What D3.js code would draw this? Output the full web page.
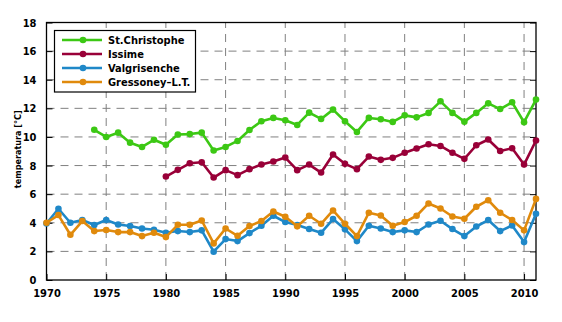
<!DOCTYPE html>
<meta charset="utf-8">
<style>
body {
  margin: 0;
  background: #fff;
  font-family: "DejaVu Sans Condensed", "DejaVu Sans";
}
text {
  font-weight: bold;
  fill: #000;
}
.grid line {
  stroke: #808080;
  stroke-width: 1;
  stroke-dasharray: 8,6;
}
.series path {
  fill: none;
  stroke-width: 2.6;
  stroke-linejoin: round;
}
</style>
<body>
<script src="https://cdn.jsdelivr.net/npm/d3@7"></script>
<script>

var width = 562,
    height = 322,
    margin = {top: 22.5, right: 26, bottom: 42, left: 46.5};

var names = ["St.Christophe", "Issime", "Valgrisenche", "Gressoney–L.T."];
var colors = ["#3cc814", "#990038", "#1f88c8", "#e08a0c"];

var stChristopheYears = d3.range(1974, 2012);
var stChristophe = [10.5, 10.0, 10.3, 9.6, 9.3, 9.8, 9.45, 10.17, 10.2, 10.3,
  9.05, 9.3, 9.72, 10.49, 11.1, 11.33, 11.17, 10.84, 11.7, 11.26,
  11.91, 11.1, 10.35, 11.33, 11.24, 11.05, 11.51, 11.37, 11.68, 12.49,
  11.68, 11.07, 11.68, 12.35, 11.95, 12.42, 11.03, 12.61];

var issimeYears = d3.range(1980, 2012);
var issime = [7.23, 7.7, 8.16, 8.23, 7.16, 7.68, 7.33, 7.75, 8.07, 8.28,
  8.56, 7.68, 8.07, 7.51, 8.77, 8.12, 7.75, 8.63, 8.4, 8.54,
  8.89, 9.19, 9.49, 9.37, 8.89, 8.47, 9.42, 9.82, 9.02, 9.21,
  8.07, 9.75];

var valgrisencheYears = d3.range(1970, 2012);
var valgrisenche = [3.95, 4.98, 4.0, 4.19, 3.84, 4.19, 3.88, 3.77, 3.6, 3.51,
  3.3, 3.42, 3.35, 3.47, 1.98, 2.86, 2.72, 3.28, 3.79, 4.49,
  4.05, 3.84, 3.56, 3.3, 4.26, 3.54, 2.72, 3.79, 3.6, 3.35,
  3.47, 3.35, 3.88, 4.14, 3.56, 3.07, 3.74, 4.19, 3.42, 3.81,
  2.65, 4.63];

var gressoneyYears = d3.range(1970, 2012);
var gressoney = [4.0, 4.54, 3.16, 4.12, 3.42, 3.49, 3.35, 3.35, 3.07, 3.3,
  3.0, 3.86, 3.86, 4.16, 2.56, 3.6, 3.09, 3.77, 4.12, 4.79,
  4.42, 3.75, 4.49, 3.93, 4.86, 3.93, 3.07, 4.7, 4.51, 3.79,
  4.05, 4.49, 5.35, 5.0, 4.44, 4.28, 5.12, 5.58, 4.7, 4.19,
  3.47, 5.67];

var xTicks = [1970, 1975, 1980, 1985, 1990, 1995, 2000, 2005, 2010];
var yTicks = [0, 2, 4, 6, 8, 10, 12, 14, 16, 18];

var series = [
  {years: stChristopheYears, values: stChristophe},
  {years: issimeYears, values: issime},
  {years: valgrisencheYears, values: valgrisenche},
  {years: gressoneyYears, values: gressoney}
].map(function(s, i) {
  return {
    name: names[i],
    color: colors[i],
    points: s.values.map(function(v, j) { return [s.years[j], v]; })
  };
});

var x = d3.scaleLinear()
    .domain([1970, 2011])
    .range([margin.left, width - margin.right]);

var y = d3.scaleLinear()
    .domain([0, 18])
    .range([height - margin.bottom, margin.top]);

var svg = d3.select("body").append("svg")
    .attr("width", width)
    .attr("height", height);

// dashed grid
var grid = svg.append("g").attr("class", "grid");

grid.selectAll(".gx")
    .data(xTicks.slice(1))
  .enter().append("line")
    .attr("x1", function(d) { return x(d); })
    .attr("x2", function(d) { return x(d); })
    .attr("y1", y(0))
    .attr("y2", y(18));

grid.selectAll(".gy")
    .data(yTicks.slice(1, -1))
  .enter().append("line")
    .attr("x1", x(1970))
    .attr("x2", x(2011))
    .attr("y1", function(d) { return y(d); })
    .attr("y2", function(d) { return y(d); });

// axes with inward ticks
function styleAxis(g) {
  g.select(".domain").remove();
  g.selectAll(".tick line").attr("stroke", "#000");
  g.selectAll(".tick text")
      .style("font-family", "DejaVu Sans Condensed, DejaVu Sans")
      .style("font-weight", "bold")
      .style("font-size", "11px");
}

svg.append("g")
    .attr("transform", "translate(0," + y(0) + ")")
    .call(d3.axisBottom(x).tickValues(xTicks).tickFormat(d3.format("d"))
      .tickSizeInner(-6).tickPadding(9))
    .call(styleAxis);

svg.append("g")
    .attr("transform", "translate(" + x(1970) + ",0)")
    .call(d3.axisLeft(y).tickValues(yTicks).tickSizeInner(-6).tickPadding(10))
    .call(styleAxis);

svg.append("g")
    .attr("transform", "translate(" + x(2011) + ",0)")
    .call(d3.axisRight(y).tickValues(yTicks).tickSizeInner(-6).tickFormat(""))
    .call(styleAxis);

svg.append("rect")
    .attr("x", x(1970))
    .attr("y", y(18))
    .attr("width", x(2011) - x(1970))
    .attr("height", y(0) - y(18))
    .attr("fill", "none")
    .attr("stroke", "#000")
    .attr("stroke-width", 1.3);

svg.append("text")
    .attr("transform", "translate(21," + (y(9) - 2) + ") rotate(-90)")
    .attr("text-anchor", "middle")
    .style("font-size", "9px")
    .text("temperatura [°C]");

// series
var line = d3.line()
    .x(function(d) { return x(d[0]); })
    .y(function(d) { return y(d[1]); });

var g = svg.selectAll(".series")
    .data(series)
  .enter().append("g")
    .attr("class", "series");

g.append("path")
    .attr("stroke", function(d) { return d.color; })
    .attr("d", function(d) { return line(d.points); });

g.selectAll("circle")
    .data(function(d) { return d.points.map(function(p) { return {p: p, c: d.color}; }); })
  .enter().append("circle")
    .attr("cx", function(d) { return x(d.p[0]); })
    .attr("cy", function(d) { return y(d.p[1]); })
    .attr("r", 3.3)
    .attr("fill", function(d) { return d.c; });

// legend
var legend = svg.append("g");

legend.append("rect")
    .attr("x", 54.5)
    .attr("y", 30.5)
    .attr("width", 141)
    .attr("height", 61.5)
    .attr("fill", "#fff")
    .attr("stroke", "#000")
    .attr("stroke-width", 1.2);

var item = legend.selectAll(".item")
    .data(series)
  .enter().append("g")
    .attr("transform", function(d, i) { return "translate(0," + (40 + i * 14) + ")"; });

item.append("line")
    .attr("x1", 62)
    .attr("x2", 102)
    .attr("stroke", function(d) { return d.color; })
    .attr("stroke-width", 2.6);

item.append("circle")
    .attr("cx", 83)
    .attr("r", 3.3)
    .attr("fill", function(d) { return d.color; });

item.append("text")
    .attr("x", 108)
    .attr("dy", "0.36em")
    .style("font-size", "11px")
    .text(function(d) { return d.name; });

</script>
